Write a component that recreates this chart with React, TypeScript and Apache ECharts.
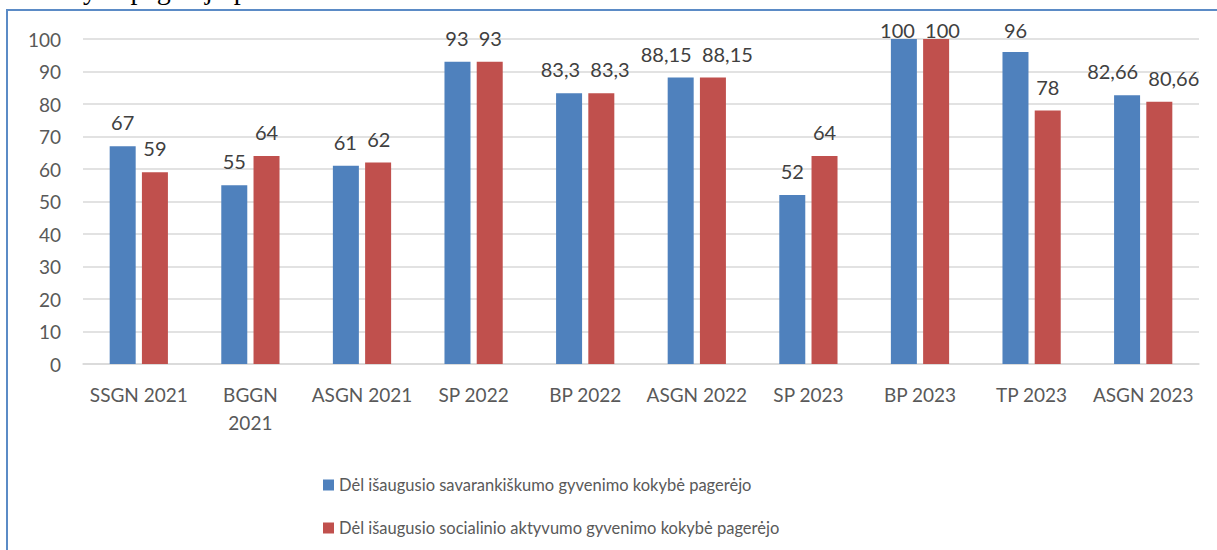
import React, { useEffect, useRef } from "react";
import * as echarts from "echarts";

const categories = [
  "SSGN 2021",
  "BGGN\n2021",
  "ASGN 2021",
  "SP 2022",
  "BP 2022",
  "ASGN 2022",
  "SP 2023",
  "BP 2023",
  "TP 2023",
  "ASGN 2023",
];
const seriesNames = [
  "Dėl išaugusio savarankiškumo gyvenimo kokybė pagerėjo",
  "Dėl išaugusio socialinio aktyvumo gyvenimo kokybė pagerėjo",
];
const independenceValues = [67, 55, 61, 93, 83.3, 88.15, 52, 100, 96, 82.66];
const socialValues = [59, 64, 62, 93, 83.3, 88.15, 64, 100, 78, 80.66];
const yTicks = { min: 0, max: 100, interval: 10 };
const topText = "kokybė pagerėjo procentais";

const FONT = "Lato, 'Open Sans', sans-serif";
const LABEL_SIZE = 20;

function fmt(v: number) {
  return String(v).replace(".", ",");
}

let measureCtx: CanvasRenderingContext2D | null = null;
function textWidth(t: string) {
  if (!measureCtx) measureCtx = document.createElement("canvas").getContext("2d");
  if (!measureCtx) return t.length * 10;
  measureCtx.font = `${LABEL_SIZE}px Lato`;
  return measureCtx.measureText(t).width;
}

export default function App() {
  const ref = useRef<HTMLDivElement>(null);
  useEffect(() => {
    if (!ref.current) return;
    const chart = echarts.init(ref.current, undefined, { renderer: "svg" });
    const label = {
      show: true,
      position: "top" as const,
      distance: 14,
      fontFamily: FONT,
      fontSize: LABEL_SIZE,
      color: "#404040",
      formatter: (p: any) => fmt(p.value),
    };
    const all = [independenceValues, socialValues];
    const pxPerUnit = 325 / (yTicks.max - yTicks.min);
    chart.setOption({
      animation: false,
      backgroundColor: "#ffffff",
      textStyle: { fontFamily: FONT },
      grid: { left: 83, right: 18, top: 39, bottom: 186, containLabel: false },
      legend: {
        orient: "vertical",
        left: 318,
        top: 470,
        itemWidth: 11,
        itemHeight: 11,
        itemGap: 23,
        icon: "rect",
        textStyle: { fontFamily: FONT, fontSize: 16.5, color: "#595959", lineHeight: 20 },
        data: seriesNames,
      },
      xAxis: {
        type: "category",
        data: categories,
        axisTick: { show: false },
        axisLine: { lineStyle: { color: "#D9D9D9", width: 1.5 } },
        axisLabel: {
          interval: 0,
          margin: 16,
          fontFamily: FONT,
          fontSize: 19,
          color: "#595959",
          lineHeight: 28,
        },
      },
      yAxis: {
        type: "value",
        min: yTicks.min,
        max: yTicks.max,
        interval: yTicks.interval,
        axisLine: { show: false },
        axisTick: { show: false },
        splitLine: { lineStyle: { color: "#D9D9D9", width: 1.5 } },
        axisLabel: {
          margin: 22,
          fontFamily: FONT,
          fontSize: 19,
          color: "#595959",
        },
      },
      labelLayout: (params: any) => {
        const s = params.seriesIndex;
        const i = params.dataIndex;
        const own = all[s][i];
        const other = all[1 - s][i];
        const r = params.labelRect;
        let dx = 0;
        let dy = 0;
        if (Math.abs(own - other) * pxPerUnit < r.height) {
          const w0 = textWidth(fmt(all[0][i]));
          const w1 = textWidth(fmt(all[1][i]));
          const spacing = 32;
          const overlap = w0 / 2 + w1 / 2 + 10 - spacing;
          if (overlap > 0) dx = s === 0 ? -overlap / 2 : overlap / 2;
        }
        const minTop = 20;
        if (r.y < minTop) dy = minTop - r.y;
        return { dx, dy };
      },
      series: [
        {
          name: seriesNames[0],
          type: "bar",
          data: independenceValues,
          barWidth: 26,
          barGap: "24%",
          itemStyle: { color: "#4F81BD" },
          label,
        },
        {
          name: seriesNames[1],
          type: "bar",
          data: socialValues,
          barWidth: 26,
          itemStyle: { color: "#C0504D" },
          label,
        },
      ],
      graphic: [
        {
          type: "rect",
          shape: { x: 7, y: 10, width: 1400, height: 800 },
          style: { fill: "none", stroke: "#5B8BC6", lineWidth: 2 },
          silent: true,
        },
        {
          type: "text",
          x: 41,
          y: -10.5,
          style: {
            text: topText,
            font: "28px 'Liberation Serif', 'Times New Roman', serif",
            fill: "#000000",
            verticalAlign: "middle",
          },
          silent: true,
        },
      ],
    });
    return () => chart.dispose();
  }, []);
  return (
    <div
      ref={ref}
      style={{ position: "fixed", left: 0, top: 0, width: 1217, height: 550 }}
    />
  );
}
